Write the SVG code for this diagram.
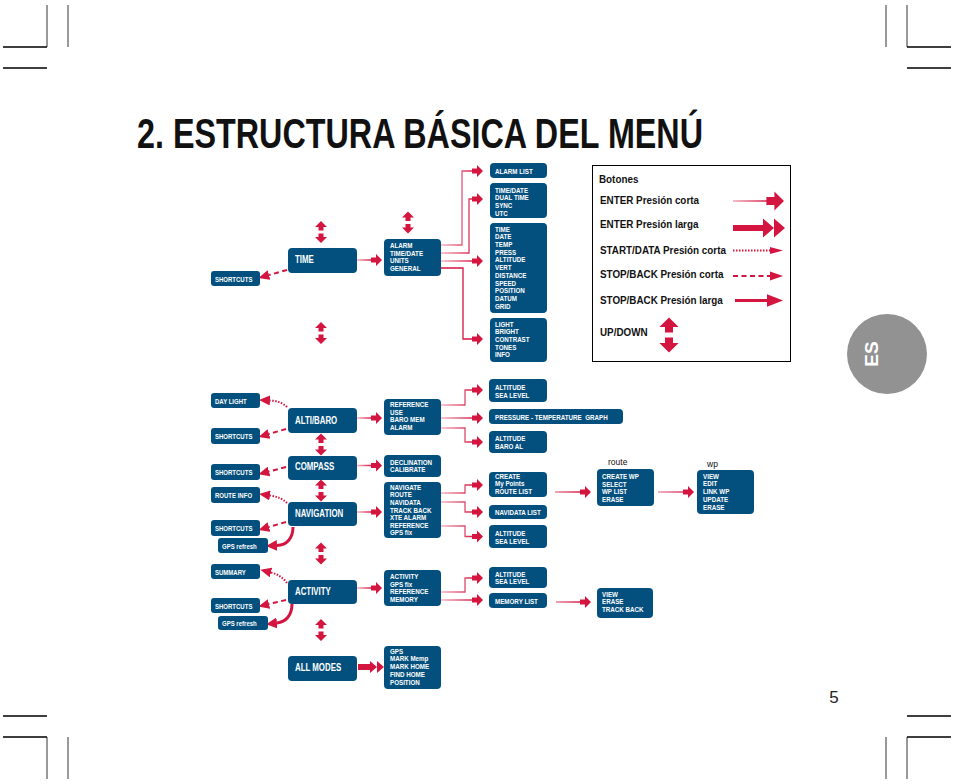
<svg xmlns="http://www.w3.org/2000/svg" xmlns:xlink="http://www.w3.org/1999/xlink" width="954" height="784" viewBox="0 0 954 784">
<style>
.bx{fill:#03507e}
.t{font-family:"Liberation Sans",Arial,sans-serif;font-weight:bold;fill:#fff}
.bt{font-size:8px}
.mt{font-size:10.5px}
.st{font-size:7px}
.lg{font-family:"Liberation Sans",Arial,sans-serif;font-weight:bold;font-size:11.2px;fill:#111}
.ar{fill:#d4153f}
.ln{fill:none;stroke-width:1.3}
.ds{fill:none;stroke:#d4153f;stroke-width:2;stroke-dasharray:5 3.5}
.dt{fill:none;stroke:#d4153f;stroke-width:2;stroke-dasharray:1.5 1.5}
.lp{fill:none;stroke:#d4153f;stroke-width:3}
.cv{stroke:#000;stroke-width:0.8;fill:none}
.ch{stroke:#000;stroke-width:1.5;fill:none}
</style>
<defs>
<path id="ea" d="M0,0 L-6,-6 L-6,-2.5 L-11,-2.5 L-11,2.5 L-6,2.5 L-6,6 Z"/>
<path id="ea2" d="M-26,-3 H-14 V-6 L-7,0 V-6 L0,0 L-7,6 V0 L-14,6 V3 H-26 Z"/>
<path id="ud" d="M0,-11 L6,-5 L2.5,-5 L2.5,-1.5 L-2.5,-1.5 L-2.5,-5 L-6,-5 Z M0,11 L6,5 L2.5,5 L2.5,1.5 L-2.5,1.5 L-2.5,5 L-6,5 Z"/>
<marker id="mh" markerUnits="userSpaceOnUse" markerWidth="11" markerHeight="10" viewBox="0 0 11 10" refX="0" refY="5" orient="auto"><path d="M0,0L11,5L0,10Z" fill="#d4153f"/></marker>
<marker id="mL" markerUnits="userSpaceOnUse" markerWidth="11" markerHeight="11" viewBox="0 0 11 11" refX="0" refY="5.5" orient="auto"><path d="M0,0L11,5.5L0,11Z" fill="#d4153f"/></marker>
<linearGradient id="gm" gradientUnits="userSpaceOnUse" x1="357" y1="0" x2="372" y2="0"><stop offset="0" stop-color="#f4b3c2"/><stop offset="1" stop-color="#d4153f"/></linearGradient>
<linearGradient id="gr" gradientUnits="userSpaceOnUse" x1="441" y1="0" x2="476" y2="0"><stop offset="0" stop-color="#f4b3c2"/><stop offset="1" stop-color="#d4153f"/></linearGradient>
<linearGradient id="g3" gradientUnits="userSpaceOnUse" x1="555" y1="0" x2="582" y2="0"><stop offset="0" stop-color="#e8899f"/><stop offset="1" stop-color="#d4153f"/></linearGradient>
<linearGradient id="g4" gradientUnits="userSpaceOnUse" x1="658" y1="0" x2="685" y2="0"><stop offset="0" stop-color="#e8899f"/><stop offset="1" stop-color="#d4153f"/></linearGradient>
<linearGradient id="gl" gradientUnits="userSpaceOnUse" x1="733" y1="0" x2="768" y2="0"><stop offset="0" stop-color="#f0a3b5"/><stop offset="1" stop-color="#d4153f"/></linearGradient>
</defs>
<rect width="954" height="784" fill="#fff"/>

<g id="cropmarks">
<path class="cv" d="M47,5V47 M68,5V47 M886,5V47 M907,5V47 M47,737V779 M68,737V779 M886,737V779 M907,737V779"/>
<path class="ch" d="M3,47H47 M3,68H47 M907,47H951 M907,68H951 M3,716H47 M3,737H47 M907,716H951 M907,737H951"/>
</g>

<text x="137" y="148" font-family="'Liberation Sans',Arial,sans-serif" font-weight="bold" font-size="43" fill="#111" textLength="566" lengthAdjust="spacingAndGlyphs">2. ESTRUCTURA BÁSICA DEL MENÚ</text>

<g id="es-tab">
<circle cx="887" cy="354" r="40" fill="#929292"/>
<text transform="translate(878,354) rotate(-90)" text-anchor="middle" font-family="'Liberation Sans',Arial,sans-serif" font-weight="bold" font-size="19" fill="#fff">ES</text>
</g>
<text x="834" y="703" text-anchor="middle" font-family="'Liberation Sans',Arial,sans-serif" font-size="17" fill="#222">5</text>

<g id="legend">
<rect x="592.5" y="165.5" width="198" height="196" fill="none" stroke="#000" stroke-width="1"/>
<text class="lg" transform="translate(599,183) scale(.88,1)">Botones</text>
<text class="lg" transform="translate(600,204) scale(.88,1)">ENTER Presión corta</text>
<text class="lg" transform="translate(600,228) scale(.88,1)">ENTER Presión larga</text>
<text class="lg" transform="translate(600,254) scale(.88,1)">START/DATA Presión corta</text>
<text class="lg" transform="translate(600,278) scale(.88,1)">STOP/BACK Presión corta</text>
<text class="lg" transform="translate(600,304) scale(.88,1)">STOP/BACK Presión larga</text>
<text class="lg" transform="translate(600,336) scale(.88,1)">UP/DOWN</text>
<path class="ln" stroke="url(#gl)" d="M733,201H768"/>
<use href="#ea" class="ar" transform="translate(784,201) scale(1.6)"/>
<path class="ar" d="M733,225 H763 V218.5 L774,228 V218.5 L785,228 L774,237.5 V228 L763,237.5 V231 H733 Z"/>
<path class="dt" d="M733,250.5H770"/>
<path class="ar" d="M770,247 L783,250.5 L770,254 Z"/>
<path class="ds" d="M733,276H770" stroke-dasharray="4.5 4"/>
<path class="ar" d="M770,271.5 L783,276 L770,280.5 Z"/>
<path class="lp" d="M735,300.5H768" stroke-width="3.5"/>
<path class="ar" d="M767,294.3 L783,300.5 L767,306.7 Z"/>
<use href="#ud" class="ar" transform="translate(669,335) scale(1.6)"/>
</g>

<g id="connectors">
<path class="ln" stroke="url(#gm)" d="M357,260H371 M357,418H371 M357,465.5H371 M357,512H371 M357,588H371"/>
<path class="ln" stroke="url(#gr)" d="M441,245H462V171H473 M441,253H469V199H473 M441,261H473 M441,405H465V390H473 M441,418H473 M441,428H465V442H473 M441,493H465V485H473 M441,502H465V512H473 M441,526H465V536.5H473 M441,592H465V578H473 M441,600H473"/>
<path class="ln" stroke="#d4153f" d="M441,268H463V339H473"/>
<path class="ln" stroke="url(#g3)" d="M555,492H581 M556,602H581"/>
<path class="ln" stroke="url(#g4)" d="M658,492H684"/>
<g class="ar">
<use href="#ea" transform="translate(382,260)"/>
<use href="#ea" transform="translate(382,418)"/>
<use href="#ea" transform="translate(382,465.5)"/>
<use href="#ea" transform="translate(382,512)"/>
<use href="#ea" transform="translate(382,588)"/>
<use href="#ea2" transform="translate(384,667)"/>
<use href="#ea" transform="translate(483,171)"/>
<use href="#ea" transform="translate(483,199)"/>
<use href="#ea" transform="translate(483,261)"/>
<use href="#ea" transform="translate(483,339)"/>
<use href="#ea" transform="translate(483,390)"/>
<use href="#ea" transform="translate(483,418)"/>
<use href="#ea" transform="translate(483,442)"/>
<use href="#ea" transform="translate(483,485)"/>
<use href="#ea" transform="translate(483,512)"/>
<use href="#ea" transform="translate(483,536.5)"/>
<use href="#ea" transform="translate(483,578)"/>
<use href="#ea" transform="translate(483,600)"/>
<use href="#ea" transform="translate(591,492)"/>
<use href="#ea" transform="translate(694,492)"/>
<use href="#ea" transform="translate(591,602)"/>
<use href="#ud" transform="translate(321,232)"/>
<use href="#ud" transform="translate(321,333)"/>
<use href="#ud" transform="translate(408,222.5)"/>
<use href="#ud" transform="translate(321,444.5)"/>
<use href="#ud" transform="translate(321,490.5)"/>
<use href="#ud" transform="translate(321,553.5)"/>
<use href="#ud" transform="translate(321,630)"/>
</g>
<path class="ds" marker-end="url(#mh)" d="M287,270L269,275"/>
<path class="ds" marker-end="url(#mh)" d="M286,429L269,434"/>
<path class="ds" marker-end="url(#mh)" d="M286,467L269,471.5"/>
<path class="ds" marker-end="url(#mh)" d="M286,522L269,527"/>
<path class="ds" marker-end="url(#mh)" d="M286,600L269,604"/>
<path class="dt" marker-end="url(#mh)" d="M287,407Q281,401 270,400.5"/>
<path class="dt" marker-end="url(#mh)" d="M287,503Q281,497 270,495.5"/>
<path class="dt" marker-end="url(#mh)" d="M287,583Q281,575 271,572.5"/>
<path class="lp" marker-end="url(#mL)" d="M293,527C293,538 287,545 277,545.5"/>
<path class="lp" marker-end="url(#mL)" d="M292,604C292,615 286,622 277,623"/>
</g>

<g id="n-time"><rect class="bx" x="288" y="248" width="69" height="25" rx="4"/><text class="t mt" transform="translate(295,263) scale(.75,1)">TIME</text></g>
<g id="n-shortcuts1"><rect class="bx" x="211" y="271" width="49" height="15" rx="3"/><text class="t st" transform="translate(215,281.5) scale(.86,1)">SHORTCUTS</text></g>
<g id="n-time-menu"><rect class="bx" x="384" y="239" width="57" height="37" rx="4"/><text class="t bt" transform="translate(390,248) scale(.78,1)"><tspan x="0" y="0">ALARM</tspan><tspan x="0" y="7.7">TIME/DATE</tspan><tspan x="0" y="15.4">UNITS</tspan><tspan x="0" y="23.1">GENERAL</tspan></text></g>
<g id="n-alarm-list"><rect class="bx" x="490" y="163" width="57" height="15" rx="4"/><text class="t bt" transform="translate(495,173.5) scale(.78,1)">ALARM LIST</text></g>
<g id="n-timedate"><rect class="bx" x="490" y="183" width="57" height="35" rx="4"/><text class="t bt" transform="translate(495,192.5) scale(.78,1)"><tspan x="0" y="0">TIME/DATE</tspan><tspan x="0" y="7.7">DUAL TIME</tspan><tspan x="0" y="15.4">SYNC</tspan><tspan x="0" y="23.1">UTC</tspan></text></g>
<g id="n-display"><rect class="bx" x="490" y="223" width="57" height="90" rx="4"/><text class="t bt" transform="translate(495,231.5) scale(.78,1)"><tspan x="0" y="0">TIME</tspan><tspan x="0" y="7.75">DATE</tspan><tspan x="0" y="15.5">TEMP</tspan><tspan x="0" y="23.25">PRESS</tspan><tspan x="0" y="31">ALTITUDE</tspan><tspan x="0" y="38.75">VERT</tspan><tspan x="0" y="46.5">DISTANCE</tspan><tspan x="0" y="54.25">SPEED</tspan><tspan x="0" y="62">POSITION</tspan><tspan x="0" y="69.75">DATUM</tspan><tspan x="0" y="77.5">GRID</tspan></text></g>
<g id="n-light"><rect class="bx" x="490" y="318" width="57" height="44" rx="4"/><text class="t bt" transform="translate(495,326.5) scale(.78,1)"><tspan x="0" y="0">LIGHT</tspan><tspan x="0" y="7.75">BRIGHT</tspan><tspan x="0" y="15.5">CONTRAST</tspan><tspan x="0" y="23.25">TONES</tspan><tspan x="0" y="31">INFO</tspan></text></g>

<g id="n-daylight"><rect class="bx" x="211" y="393" width="49" height="15" rx="3"/><text class="t st" transform="translate(215,403.5) scale(.86,1)">DAY LIGHT</text></g>
<g id="n-altibaro"><rect class="bx" x="288" y="408" width="69" height="25" rx="4"/><text class="t mt" transform="translate(295,423.5) scale(.75,1)">ALTI/BARO</text></g>
<g id="n-shortcuts2"><rect class="bx" x="211" y="428" width="49" height="16" rx="3"/><text class="t st" transform="translate(215,439) scale(.86,1)">SHORTCUTS</text></g>
<g id="n-alti-menu"><rect class="bx" x="384" y="399" width="57" height="36" rx="4"/><text class="t bt" transform="translate(390,407) scale(.78,1)"><tspan x="0" y="0">REFERENCE</tspan><tspan x="0" y="7.7">USE</tspan><tspan x="0" y="15.4">BARO MEM</tspan><tspan x="0" y="23.1">ALARM</tspan></text></g>
<g id="n-alt-sea1"><rect class="bx" x="489" y="379" width="58" height="23" rx="4"/><text class="t bt" transform="translate(495,389.8) scale(.78,1)"><tspan x="0" y="0">ALTITUDE</tspan><tspan x="0" y="8">SEA LEVEL</tspan></text></g>
<g id="n-press"><rect class="bx" x="489" y="409" width="134" height="15" rx="4"/><text class="t bt" transform="translate(495,419.5) scale(.78,1)" xml:space="preserve">PRESSURE - TEMPERATURE  GRAPH</text></g>
<g id="n-alt-baro"><rect class="bx" x="489" y="431" width="58" height="22" rx="4"/><text class="t bt" transform="translate(495,441) scale(.78,1)"><tspan x="0" y="0">ALTITUDE</tspan><tspan x="0" y="8">BARO AL</tspan></text></g>

<g id="n-compass"><rect class="bx" x="288" y="456" width="69" height="24" rx="4"/><text class="t mt" transform="translate(295,470) scale(.75,1)">COMPASS</text></g>
<g id="n-shortcuts3"><rect class="bx" x="211" y="464" width="49" height="16" rx="3"/><text class="t st" transform="translate(215,475) scale(.86,1)">SHORTCUTS</text></g>
<g id="n-compass-menu"><rect class="bx" x="384" y="455" width="57" height="22" rx="4"/><text class="t bt" transform="translate(390,464.5) scale(.78,1)"><tspan x="0" y="0">DECLINATION</tspan><tspan x="0" y="7.7">CALIBRATE</tspan></text></g>

<g id="n-routeinfo"><rect class="bx" x="211" y="487" width="49" height="16" rx="3"/><text class="t st" transform="translate(215,498) scale(.86,1)">ROUTE INFO</text></g>
<g id="n-navigation"><rect class="bx" x="288" y="502" width="69" height="24" rx="4"/><text class="t mt" transform="translate(295,517) scale(.75,1)">NAVIGATION</text></g>
<g id="n-shortcuts4"><rect class="bx" x="211" y="520" width="49" height="16" rx="3"/><text class="t st" transform="translate(215,531) scale(.86,1)">SHORTCUTS</text></g>
<g id="n-gpsref1"><rect class="bx" x="218" y="538" width="50" height="15" rx="3"/><text class="t st" transform="translate(222,548.5) scale(.86,1)">GPS refresh</text></g>
<g id="n-nav-menu"><rect class="bx" x="384" y="482" width="57" height="56" rx="4"/><text class="t bt" transform="translate(390,489.8) scale(.78,1)"><tspan x="0" y="0">NAVIGATE</tspan><tspan x="0" y="7.6">ROUTE</tspan><tspan x="0" y="15.2">NAVIDATA</tspan><tspan x="0" y="22.8">TRACK BACK</tspan><tspan x="0" y="30.4">XTE ALARM</tspan><tspan x="0" y="38">REFERENCE</tspan><tspan x="0" y="45.6">GPS fix</tspan></text></g>
<g id="n-create"><rect class="bx" x="489" y="472" width="58" height="25" rx="4"/><text class="t bt" transform="translate(495,478.8) scale(.78,1)"><tspan x="0" y="0">CREATE</tspan><tspan x="0" y="7.7">My Points</tspan><tspan x="0" y="15.4">ROUTE LIST</tspan></text></g>
<g id="n-navlist"><rect class="bx" x="489" y="505" width="58" height="14" rx="4"/><text class="t bt" transform="translate(495,514.8) scale(.78,1)">NAVIDATA LIST</text></g>
<g id="n-alt-sea2"><rect class="bx" x="489" y="525" width="58" height="23" rx="4"/><text class="t bt" transform="translate(495,535.8) scale(.78,1)"><tspan x="0" y="0">ALTITUDE</tspan><tspan x="0" y="7.8">SEA LEVEL</tspan></text></g>
<text x="608" y="465" font-family="'Liberation Sans',Arial,sans-serif" font-size="8.5" fill="#111">route</text>
<g id="n-route"><rect class="bx" x="597" y="469" width="57" height="37" rx="4"/><text class="t bt" transform="translate(602,479) scale(.78,1)"><tspan x="0" y="0">CREATE WP</tspan><tspan x="0" y="7.6">SELECT</tspan><tspan x="0" y="15.2">WP LIST</tspan><tspan x="0" y="22.8">ERASE</tspan></text></g>
<text x="707" y="467" font-family="'Liberation Sans',Arial,sans-serif" font-size="8.5" fill="#111">wp</text>
<g id="n-wp"><rect class="bx" x="697" y="470" width="57" height="44" rx="4"/><text class="t bt" transform="translate(703,478.5) scale(.78,1)"><tspan x="0" y="0">VIEW</tspan><tspan x="0" y="7.85">EDIT</tspan><tspan x="0" y="15.7">LINK WP</tspan><tspan x="0" y="23.55">UPDATE</tspan><tspan x="0" y="31.4">ERASE</tspan></text></g>

<g id="n-summary"><rect class="bx" x="211" y="564" width="49" height="15" rx="3"/><text class="t st" transform="translate(215,574.5) scale(.86,1)">SUMMARY</text></g>
<g id="n-activity"><rect class="bx" x="288" y="580" width="69" height="24" rx="4"/><text class="t mt" transform="translate(295,595) scale(.75,1)">ACTIVITY</text></g>
<g id="n-shortcuts5"><rect class="bx" x="211" y="598" width="49" height="15" rx="3"/><text class="t st" transform="translate(215,608.5) scale(.86,1)">SHORTCUTS</text></g>
<g id="n-gpsref2"><rect class="bx" x="218" y="616" width="50" height="14" rx="3"/><text class="t st" transform="translate(222,626) scale(.86,1)">GPS refresh</text></g>
<g id="n-act-menu"><rect class="bx" x="384" y="570" width="57" height="36" rx="4"/><text class="t bt" transform="translate(390,579) scale(.78,1)"><tspan x="0" y="0">ACTIVITY</tspan><tspan x="0" y="7.7">GPS fix</tspan><tspan x="0" y="15.4">REFERENCE</tspan><tspan x="0" y="23.1">MEMORY</tspan></text></g>
<g id="n-alt-sea3"><rect class="bx" x="489" y="567" width="58" height="21" rx="4"/><text class="t bt" transform="translate(495,576.5) scale(.78,1)"><tspan x="0" y="0">ALTITUDE</tspan><tspan x="0" y="7.8">SEA LEVEL</tspan></text></g>
<g id="n-memlist"><rect class="bx" x="489" y="593" width="58" height="15" rx="4"/><text class="t bt" transform="translate(495,603.5) scale(.78,1)">MEMORY LIST</text></g>
<g id="n-memview"><rect class="bx" x="597" y="588" width="56" height="30" rx="4"/><text class="t bt" transform="translate(602,596.5) scale(.78,1)"><tspan x="0" y="0">VIEW</tspan><tspan x="0" y="8">ERASE</tspan><tspan x="0" y="16">TRACK BACK</tspan></text></g>

<g id="n-allmodes"><rect class="bx" x="288" y="656" width="69" height="25" rx="4"/><text class="t mt" transform="translate(295,671) scale(.75,1)">ALL MODES</text></g>
<g id="n-allmodes-menu"><rect class="bx" x="384" y="646" width="57" height="43" rx="4"/><text class="t bt" transform="translate(390,653.5) scale(.78,1)"><tspan x="0" y="0">GPS</tspan><tspan x="0" y="7.8">MARK Memp</tspan><tspan x="0" y="15.6">MARK HOME</tspan><tspan x="0" y="23.4">FIND HOME</tspan><tspan x="0" y="31.2">POSITION</tspan></text></g>
</svg>
